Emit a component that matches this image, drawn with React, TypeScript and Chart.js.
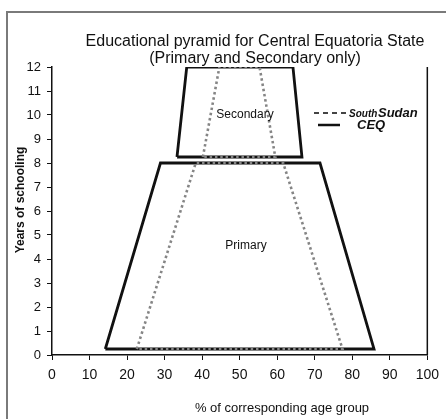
import React, { useEffect, useRef } from "react";
import { Chart, registerables } from "chart.js";

Chart.register(...registerables);

const xTicksMax = 100;
const yTicksMax = 12;

// CEQ (solid)
const ceqPrimaryX = [14.2, 28.9, 71.4, 85.8, 14.2];
const ceqPrimaryY = [0.25, 8, 8, 0.25, 0.25];
const ceqSecondaryX = [33.3, 35.9, 64.2, 66.6, 33.3];
const ceqSecondaryY = [8.25, 12, 12, 8.25, 8.25];

// South Sudan (dotted)
const ssPrimaryX = [22.6, 38.3, 61.6, 77.4, 22.6];
const ssPrimaryY = [0.25, 8, 8, 0.25, 0.25];
const ssSecondaryX = [40.2, 44.6, 55.3, 59.5, 40.2];
const ssSecondaryY = [8.25, 12, 12, 8.25, 8.25];

const titleLines = ["Educational pyramid for Central Equatoria State", "(Primary and Secondary only)"];
const xTitle = "% of corresponding age group";
const yTitle = "Years of schooling";

const pts = (xs: number[], ys: number[]) => xs.map((x, i) => ({ x, y: ys[i] }));

const FONT = "'Liberation Sans', Arial, sans-serif";

const decorPlugin = {
  id: "decor",
  beforeDraw(chart: any) {
    const { ctx } = chart;
    ctx.save();
    ctx.fillStyle = "#fff";
    ctx.fillRect(0, 0, chart.width, chart.height);
    ctx.strokeStyle = "#7a7a7a";
    ctx.lineWidth = 2;
    ctx.strokeRect(7, 12, 460, 430);
    ctx.restore();
  },
  afterDraw(chart: any) {
    const { ctx, chartArea } = chart;
    ctx.save();
    // right border
    ctx.strokeStyle = "#111";
    ctx.lineWidth = 1.5;
    ctx.beginPath();
    ctx.moveTo(chartArea.right, chartArea.top);
    ctx.lineTo(chartArea.right, chartArea.bottom);
    ctx.stroke();

    ctx.fillStyle = "#111";
    ctx.textAlign = "center";
    ctx.textBaseline = "middle";
    ctx.font = `16px ${FONT}`;
    ctx.fillText(titleLines[0], 255, 42);
    ctx.fillText(titleLines[1], 255, 59);

    ctx.font = `13px ${FONT}`;
    ctx.fillText(xTitle, 282, 408);

    ctx.font = `12px ${FONT}`;
    ctx.fillText("Secondary", 245, 115);
    ctx.fillText("Primary", 246, 246);

    ctx.save();
    ctx.translate(21, 200);
    ctx.rotate(-Math.PI / 2);
    ctx.font = `bold 12px ${FONT}`;
    ctx.fillText(yTitle, 0, 0);
    ctx.restore();

    // legend
    ctx.strokeStyle = "#444";
    ctx.lineWidth = 2;
    ctx.setLineDash([5, 4]);
    ctx.beginPath();
    ctx.moveTo(314, 113);
    ctx.lineTo(348, 113);
    ctx.stroke();
    ctx.setLineDash([]);
    ctx.strokeStyle = "#111";
    ctx.lineWidth = 2.5;
    ctx.beginPath();
    ctx.moveTo(318, 125);
    ctx.lineTo(340, 125);
    ctx.stroke();

    ctx.textAlign = "left";
    ctx.font = `italic bold 10px ${FONT}`;
    ctx.fillText("South", 349, 114);
    ctx.font = `italic bold 13px ${FONT}`;
    ctx.fillText("Sudan", 378, 113);
    ctx.font = `italic bold 13px ${FONT}`;
    ctx.fillText("CEQ", 357, 125);
    ctx.restore();
  },
};

export default function App() {
  const ref = useRef<HTMLCanvasElement>(null);
  useEffect(() => {
    if (!ref.current) return;
    const dotted = {
      borderColor: "#858585",
      borderWidth: 2.6,
      borderDash: [2.5, 2.8],
      borderCapStyle: "butt" as const,
      showLine: true,
      pointRadius: 0,
      fill: false,
      tension: 0,
      order: 0,
    };
    const solid = {
      borderColor: "#111",
      borderWidth: 2.8,
      showLine: true,
      pointRadius: 0,
      fill: false,
      tension: 0,
      order: 1,
    };
    const chart = new Chart(ref.current, {
      type: "scatter",
      data: {
        datasets: [
          { label: "South Sudan primary", data: pts(ssPrimaryX, ssPrimaryY), ...dotted },
          { label: "South Sudan secondary", data: pts(ssSecondaryX, ssSecondaryY), ...dotted },
          { label: "CEQ primary", data: pts(ceqPrimaryX, ceqPrimaryY), ...solid },
          { label: "CEQ secondary", data: pts(ceqSecondaryX, ceqSecondaryY), ...solid },
        ],
      },
      options: {
        responsive: false,
        animation: false,
        devicePixelRatio: 1,
        layout: { padding: { left: 0, top: 67, right: 12, bottom: 0 } },
        plugins: { legend: { display: false }, tooltip: { enabled: false }, title: { display: false } },
        scales: {
          x: {
            type: "linear",
            min: 0,
            max: xTicksMax,
            afterFit: (s: any) => { s.height = 64; },
            ticks: { stepSize: 10, color: "#111", font: { size: 14, family: FONT }, padding: 7, maxRotation: 0 },
            grid: { drawOnChartArea: false, drawTicks: true, tickLength: 5, color: "#111", lineWidth: 1 },
            border: { color: "#111", width: 1.5 },
          },
          y: {
            type: "linear",
            min: 0,
            max: yTicksMax,
            afterFit: (s: any) => { s.width = 52; },
            ticks: { stepSize: 1, color: "#111", font: { size: 13, family: FONT }, padding: 6 },
            grid: { drawOnChartArea: false, drawTicks: true, tickLength: 5, color: "#111", lineWidth: 1 },
            border: { color: "#111", width: 1.5 },
          },
        },
      },
      plugins: [decorPlugin],
    });
    return () => chart.destroy();
  }, []);
  return (
    <div style={{ position: "fixed", left: 0, top: 0, width: 446, height: 419, background: "#fff" }}>
      <canvas ref={ref} width={446} height={419} style={{ display: "block", width: 446, height: 419 }} />
    </div>
  );
}
